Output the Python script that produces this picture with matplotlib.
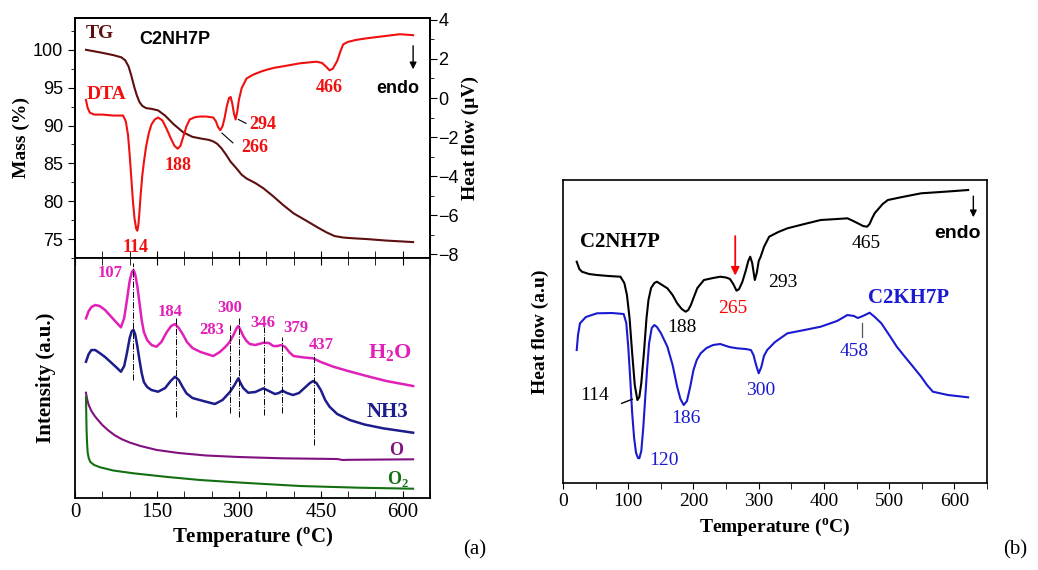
import matplotlib.pyplot as plt
import numpy as np

SERIF = 'Liberation Serif'
SANS = 'Liberation Sans'

# ---- (a) top: TG / DTA ----
tg_t = [20, 50, 70, 85, 92, 98, 103, 108, 113, 118, 123, 130, 140, 152, 165, 180, 198, 215, 229, 245, 253, 260, 268, 276, 285, 296, 305, 314, 330, 345, 362, 381, 400, 424, 445, 460, 475, 491, 510, 534, 570, 619]
tg_m = [100, 99.6, 99.3, 99.0, 98.6, 97.8, 96.6, 95.2, 94.0, 93.1, 92.6, 92.3, 92.2, 92.0, 91.3, 90.2, 89.1, 88.5, 88.3, 88.1, 87.9, 87.6, 87.0, 86.2, 85.2, 84.3, 83.5, 83.0, 82.4, 81.7, 80.7, 79.5, 78.4, 77.4, 76.5, 75.9, 75.4, 75.2, 75.1, 75.0, 74.8, 74.6]

dta_t = [20, 23, 27, 35, 50, 70, 88, 93, 97, 100, 103, 106, 109, 112, 114, 116, 118, 120, 123, 126, 130, 135, 140, 146, 152, 160, 168, 175, 182, 188, 193, 198, 204, 210, 220, 229, 240, 253, 258, 262, 266, 270, 274, 278, 282, 285, 288, 291, 294, 297, 300, 305, 314, 325, 340, 351, 365, 380, 400, 412, 430, 442, 452, 460, 466, 472, 480, 486, 491, 500, 515, 534, 560, 595, 619]
dta_v = [-0.1, -0.5, -0.75, -0.85, -0.85, -0.9, -0.9, -1.2, -1.9, -2.9, -4.1, -5.3, -6.2, -6.7, -6.8, -6.5, -5.8, -5.0, -4.0, -3.3, -2.5, -1.8, -1.35, -1.1, -1.0, -1.15, -1.6, -2.05, -2.45, -2.6, -2.45, -2.0, -1.45, -1.1, -0.98, -0.95, -0.95, -1.0, -1.2, -1.5, -1.65, -1.45, -1.0, -0.4, 0.0, 0.05, -0.3, -0.8, -1.1, -0.7, -0.1, 0.5, 1.0, 1.18, 1.35, 1.45, 1.55, 1.62, 1.72, 1.78, 1.83, 1.86, 1.8, 1.6, 1.42, 1.5, 1.9, 2.4, 2.75, 2.88, 2.98, 3.06, 3.15, 3.27, 3.22]

# ---- (a) bottom: MS signals ----
h2o_t = [20, 25, 30, 37, 45, 55, 65, 75, 84, 90, 95, 100, 104, 107, 110, 114, 118, 122, 126, 132, 140, 149, 158, 168, 176, 183, 190, 197, 205, 215, 230, 253, 265, 275, 283, 290, 296, 299, 303, 308, 314, 320, 330, 345, 355, 363, 370, 378, 385, 392, 400, 420, 436, 450, 473, 500, 534, 570, 619]
h2o_v = [179.7, 187, 191, 193, 192, 188, 182, 176, 170.7, 180, 198, 217, 226, 228, 224, 212, 195, 178, 166, 158, 153, 151.3, 156, 166, 172, 174, 170, 164, 156, 150, 146, 142, 146, 151, 156, 163, 170, 172, 168, 162, 157, 154, 153, 155.3, 155, 152, 152, 153, 151, 146, 142, 140.5, 139.7, 136, 131.3, 127, 122, 117, 112]

nh3_t = [20, 25, 30, 37, 45, 55, 65, 75, 84, 90, 95, 100, 104, 107, 110, 114, 118, 122, 126, 132, 140, 152, 165, 175, 183, 190, 197, 204, 215, 235, 256, 270, 284, 292, 297, 299, 302, 308, 317, 330, 345, 355, 366, 373, 380, 388, 399, 410, 420, 430, 436, 442, 450, 458, 466, 480, 503, 530, 564, 619]
nh3_v = [136.3, 144, 148, 148, 145, 141, 136, 131, 126.3, 132, 145, 160, 167, 168, 164, 152, 138, 125, 116, 111, 108, 106.3, 110, 117, 121.3, 118, 111, 104.7, 100, 97, 94, 98, 106.3, 113, 118, 119.7, 116, 110, 105.3, 106, 109.7, 107, 104, 105, 107.3, 105, 103, 105, 110, 115, 117, 115, 108, 98, 91.3, 84, 78, 73.5, 69.7, 65.3]

o_t = [20, 22, 25, 30, 36, 42, 50, 60, 72, 85, 100, 120, 150, 190, 240, 300, 380, 480, 490, 500, 619]
o_v = [105.3, 99, 93, 87, 82, 78, 73, 68, 63, 59, 55.5, 52, 48, 45, 42.5, 41, 39.7, 39, 38, 38.2, 38.7]

o2_t = [20, 20.5, 21, 22, 23, 25, 28, 35, 46, 70, 107, 170, 229, 300, 412, 520, 619]
o2_v = [101.3, 85, 70, 55, 46, 40, 36, 33, 30.7, 27.5, 24.7, 21, 18, 15.5, 12, 10.3, 9.3]

ms_lines_t = [107, 184, 283, 300, 346, 379, 437]
ms_lines_top = [234.7, 179.7, 173, 179.7, 171.3, 161.3, 144.7]
ms_lines_bot = [118, 81.3, 84.7, 81.3, 83, 84.7, 53]

# ---- (b) DTA comparison ----
c2n_t = [21, 25, 29, 40, 52, 70, 88, 94, 98, 102, 106, 110, 114, 117, 120, 124, 128, 131, 135, 140, 144, 152, 160, 168, 175, 182, 188, 192, 196, 200, 206, 216, 230, 241, 250, 256, 261, 266, 270, 275, 280, 284, 287, 290, 294, 297, 300, 303, 308, 316, 330, 344, 370, 395, 420, 436, 445, 452, 460, 466, 470, 474, 478, 482, 490, 498, 520, 549, 590, 621]
c2n_v = [221.3, 214, 211.3, 209, 208, 207, 206.3, 200, 188, 165, 130, 98, 83, 86, 100, 130, 165, 183, 195, 200, 201.3, 198, 194.7, 188, 179.7, 174, 171.3, 173, 178, 185, 195, 203, 205, 206.3, 205.5, 204, 199, 192.3, 194, 201.3, 212, 222, 226.3, 220, 203, 210, 222, 226.3, 236, 246.3, 251, 254.7, 259, 263, 264, 264.7, 262, 259.7, 257, 256.3, 259, 265, 270, 273, 279, 283, 286, 289.7, 291.5, 293]

c2k_t = [21, 23, 26, 35, 52, 75, 93, 97, 100, 103, 106, 109, 112, 115, 117, 120, 123, 126, 129, 132, 136, 140, 144, 150, 160, 168, 175, 180, 185, 190, 195, 200, 205, 211, 220, 230, 241, 255, 267, 280, 288, 292, 296, 300, 304, 308, 313, 325, 344, 370, 395, 420, 436, 446, 452, 457, 463, 470, 478, 488, 500, 512, 524, 537, 549, 558, 567, 590, 621]
c2k_v = [133, 148, 159.7, 166, 169.7, 170, 169, 160, 136.3, 105, 70, 45, 30, 25, 24.7, 32, 55, 85, 115, 140, 155, 158, 156, 150, 136.3, 118, 96.3, 84, 78, 82, 96.3, 113, 123, 129.7, 135, 138, 139, 136, 134.7, 134, 133, 128, 118, 109.7, 116, 127, 133, 141, 149.7, 153, 156.3, 162, 168, 167, 165, 166.3, 168, 170.3, 166, 159.7, 148, 136, 126.3, 116, 106.3, 98, 91.3, 88, 85.7]

fig = plt.figure(figsize=(10.38, 5.70), dpi=100)

tg_col = '#5e0f0f'
dta_col = '#f01010'
mag = '#e020b8'
navy = '#1c1c8a'

# top-left
ax1 = fig.add_axes([0.0723, 0.5474, 0.342, 0.421])
ax1.plot(tg_t, tg_m, color=tg_col, lw=1.5)
ax1.set_xlim(0, 650)
ax1.set_ylim(72.8, 104.2)
ax1.set_yticks([75, 80, 85, 90, 95, 100])
ax1.set_yticks(np.arange(72.5, 104, 2.5), minor=True)
ax1.set_xticks([0, 150, 300, 450, 600])
ax1.set_xticks(np.arange(0, 651, 50), minor=True)
ax1.tick_params(axis='x', which='both', direction='in', labelbottom=False, length=5)
ax1.tick_params(axis='y', which='major', direction='out', length=5, labelsize=13)
ax1.tick_params(axis='y', which='minor', direction='out', length=3)
for lab in ax1.get_yticklabels():
    lab.set_family(SANS)
ax1.set_ylabel('Mass (%)', family=SERIF, fontweight='bold', fontsize=14, labelpad=2)

ax1r = ax1.twinx()
ax1r.plot(dta_t, dta_v, color=dta_col, lw=1.5)
ax1r.set_ylim(-8.2, 4.1)
ax1r.set_yticks([-8, -6, -4, -2, 0, 2, 4])
ax1r.set_yticks(np.arange(-8, 4.1, 1), minor=True)
ax1r.tick_params(axis='y', which='major', direction='out', length=5, labelsize=13, pad=1)
ax1r.tick_params(axis='y', which='minor', direction='out', length=3)
for lab in ax1r.get_yticklabels():
    lab.set_family(SANS)
ax1r.set_ylabel('Heat flow (\u03bcV)', family=SERIF, fontweight='bold', fontsize=14, labelpad=2)

ax1.text(46, 102.2, 'TG', color=tg_col, family=SERIF, fontweight='bold', fontsize=14, ha='center', va='center')
ax1.text(58, 94.1, 'DTA', color=dta_col, family=SERIF, fontweight='bold', fontsize=14, ha='center', va='center')
ax1.text(183, 101.3, 'C2NH7P', color='black', family=SANS, fontweight='bold', fontsize=13, ha='center', va='center')
ann_a = [('114', 110, -7.64), ('188', 188, -3.44), ('266', 329, -2.56), ('294', 344, -1.38), ('466', 466, 0.55)]
for s, x, y in ann_a:
    ax1r.text(x, y, s, color=dta_col, family=SERIF, fontweight='bold', fontsize=13, ha='center', va='center')
ax1r.plot([269, 289], [-1.8, -2.3], color='black', lw=0.8)
ax1r.plot([299, 313], [-1.1, -1.3], color='black', lw=0.8)
ax1r.text(591, 0.51, 'endo', family=SANS, fontweight='bold', fontsize=13, ha='center', va='center')
ax1r.annotate('', xy=(619, 1.33), xytext=(619, 2.82),
              arrowprops=dict(arrowstyle='-|>', color='black', lw=1, mutation_scale=10))

# bottom-left
ax2 = fig.add_axes([0.0723, 0.1263, 0.342, 0.421])
ax2.plot(h2o_t, h2o_v, color=mag, lw=1.8)
ax2.plot(nh3_t, nh3_v, color=navy, lw=1.8)
ax2.plot(o_t, o_v, color='#801080', lw=1.5)
ax2.plot(o2_t, o2_v, color='#127012', lw=1.5)
for x, y0, y1 in zip(ms_lines_t, ms_lines_bot, ms_lines_top):
    ax2.plot([x, x], [y0, y1], color='black', lw=0.7, ls='-.')
ax2.set_xlim(0, 650)
ax2.set_ylim(0, 240)
ax2.set_yticks([])
ax2.set_xticks([0, 150, 300, 450, 600])
ax2.set_xticks(np.arange(0, 651, 50), minor=True)
ax2.tick_params(axis='x', which='both', direction='in', length=5, labelsize=15, top=True)
for lab in ax2.get_xticklabels():
    lab.set_family(SERIF)
ax2.set_xlabel('Temperature ($^{\\mathregular{o}}$C)', family=SERIF, fontweight='bold', fontsize=15, labelpad=3)
ax2.set_ylabel('Intensity (a.u.)', family=SERIF, fontweight='bold', fontsize=15, labelpad=14)
ms_lab = [('107', 64, 224.7), ('184', 174, 186), ('283', 250, 168), ('300', 283, 189.7),
          ('346', 344, 174.7), ('379', 405, 169.7), ('437', 451, 153)]
for s, x, y in ms_lab:
    ax2.text(x, y, s, color=mag, family=SERIF, fontweight='bold', fontsize=12, ha='center', va='center')
ax2.text(576, 144.7, 'H$_\\mathregular{2}$O', color=mag, family=SERIF, fontweight='bold', fontsize=16, ha='center', va='center')
ax2.text(573, 86, 'NH3', color=navy, family=SERIF, fontweight='bold', fontsize=15, ha='center', va='center')
ax2.text(587, 48, 'O', color='#801080', family=SERIF, fontweight='bold', fontsize=13, ha='center', va='center')
ax2.text(591, 18.7, 'O$_\\mathregular{2}$', color='#127012', family=SERIF, fontweight='bold', fontsize=13, ha='center', va='center')
for ax in (ax1, ax1r, ax2):
    for sp in ax.spines.values():
        sp.set_linewidth(1.3)

# right panel
ax3 = fig.add_axes([0.5424, 0.1526, 0.4085, 0.5316])
ax3.plot(c2n_t, c2n_v, color='black', lw=1.5)
ax3.plot(c2k_t, c2k_v, color='#1a1ad0', lw=1.5)
ax3.set_xlim(0, 650)
ax3.set_ylim(0, 303)
ax3.set_yticks([])
ax3.set_xticks(np.arange(0, 601, 100))
ax3.set_xticks(np.arange(0, 651, 50), minor=True)
ax3.tick_params(axis='x', which='both', direction='out', length=4, labelsize=14)
for lab in ax3.get_xticklabels():
    lab.set_family(SERIF)
ax3.set_xlabel('Temperature ($^{\\mathregular{o}}$C)', family=SERIF, fontweight='bold', fontsize=14, labelpad=4)
ax3.set_ylabel('Heat flow (a.u)', family=SERIF, fontweight='bold', fontsize=14, labelpad=10)
for sp in ax3.spines.values():
    sp.set_linewidth(1.2)

ax3.text(88, 241, 'C2NH7P', family=SERIF, fontweight='bold', fontsize=15, ha='center', va='center')
ax3.text(529, 184.7, 'C2KH7P', color='#1a1ad0', family=SERIF, fontweight='bold', fontsize=15, ha='center', va='center')
ann_b = [('265', 260, 175, 'red'), ('188', 183, 156, 'black'), ('293', 337, 201, 'black'),
         ('465', 464, 239.7, 'black'), ('458', 446, 131.3, '#1a1ad0'), ('300', 303, 93, '#1a1ad0'),
         ('114', 49, 88, 'black'), ('186', 188, 64.7, '#1a1ad0'), ('120', 154, 23, '#1a1ad0')]
for s, x, y, c in ann_b:
    ax3.text(x, y, s, color=c, family=SERIF, fontsize=14, ha='center', va='center')
ax3.plot([458, 458], [146.3, 159.7], color='#555555', lw=0.9)
ax3.plot([90, 106], [79.7, 83.7], color='black', lw=1)
ax3.annotate('', xy=(264, 204.7), xytext=(264, 249.7),
             arrowprops=dict(arrowstyle='-|>', color='red', lw=1.3, mutation_scale=12))
ax3.annotate('', xy=(629, 263), xytext=(629, 289.7),
             arrowprops=dict(arrowstyle='-|>', color='black', lw=1, mutation_scale=10))
ax3.text(605, 249.7, 'endo', family=SANS, fontweight='bold', fontsize=14, ha='center', va='center')

fig.text(475 / 1038, 1 - 550 / 570, '(a)', family=SERIF, fontsize=15, ha='center', va='center')
fig.text(1015 / 1038, 1 - 550 / 570, '(b)', family=SERIF, fontsize=15, ha='center', va='center')

fig.savefig('out.png', dpi=100)
